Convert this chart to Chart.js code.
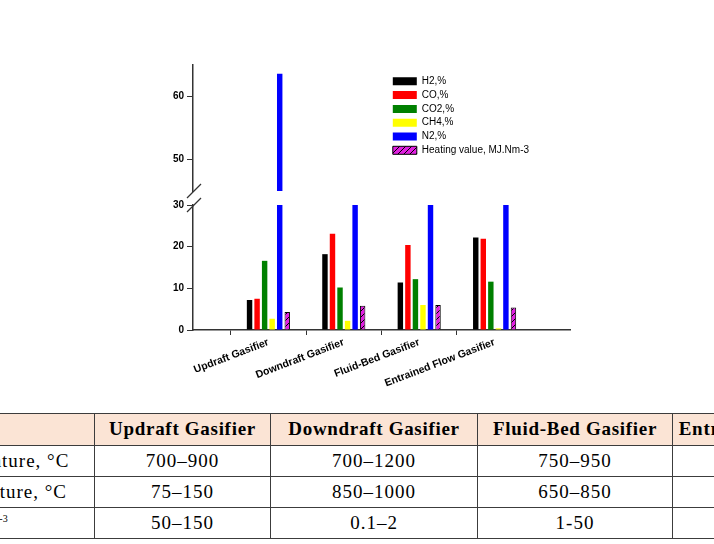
<!DOCTYPE html>
<html>
<head>
<meta charset="utf-8">
<script src="https://cdn.jsdelivr.net/npm/chart.js@4.4.0/dist/chart.umd.min.js"></script>
<style>
  html, body { margin: 0; padding: 0; background: #fff; width: 714px; height: 544px; overflow: hidden; position: relative; }
  #chartBox { position: absolute; left: 0; top: 0; width: 714px; height: 400px; }
  table { position: absolute; left: -173px; top: 412.5px; border-collapse: collapse; table-layout: fixed; width: 1071px;
          font-family: "Liberation Serif", serif; font-size: 19px; letter-spacing: 1px; color: #000; }
  th, td { border: 1.5px solid #3c3c3c; text-align: center; padding: 0; white-space: nowrap; overflow: hidden; }
  th { background: #fbe4d5; height: 31px; letter-spacing: 0.7px; }
  td { height: 30px; }
  td.tar { padding-right: 70px; }
  sup { font-size: 10px; letter-spacing: 0; }
</style>
</head>
<body>
<div id="chartBox"><canvas id="gasChart" width="714" height="400"></canvas></div>
<table>
  <colgroup><col style="width:267px"><col style="width:176px"><col style="width:207px"><col style="width:195px"><col style="width:226px"></colgroup>
  <tr><th></th><th>Updraft Gasifier</th><th>Downdraft Gasifier</th><th>Fluid-Bed Gasifier</th><th>Entrained Flow Gasifier</th></tr>
  <tr><td>Reaction temperature, °C</td><td>700–900</td><td>700–1200</td><td>750–950</td><td></td></tr>
  <tr><td>Gas exit temperature, °C</td><td>75–150</td><td>850–1000</td><td>650–850</td><td></td></tr>
  <tr><td class="tar">Tar content, g.Nm<sup>-3</sup></td><td>50–150</td><td>0.1–2</td><td>1-50</td><td></td></tr>
</table>
<script>
// blank slots at both ends so the groups sit between the axis ends
const categories = ['', 'Updraft Gasifier', 'Downdraft Gasifier', 'Fluid-Bed Gasifier', 'Entrained Flow Gasifier', ''];
const h2 = [null, 7.2, 18.2, 11.4, 22.2, null];
const co = [null, 7.5, 23.1, 20.4, 21.9, null];
const co2 = [null, 16.6, 10.2, 12.2, 11.6, null];
const ch4 = [null, 2.7, 2.2, 6.0, 0.4, null];
const n2 = [null, 63.6, 42, 44, 40, null];
const heating = [null, 4.3, 5.8, 6.0, 5.4, null];
const lowTicks = [0, 10, 20, 30];
const highTicks = [50, 60];

Chart.defaults.font.family = '"Liberation Sans", Arial, sans-serif';
Chart.defaults.color = '#000';

const ctx = document.getElementById('gasChart').getContext('2d');

function hatch() {
  const c = document.createElement('canvas');
  c.width = 6; c.height = 6;
  const g = c.getContext('2d');
  g.fillStyle = '#e01fe0';
  g.fillRect(0, 0, 6, 6);
  g.strokeStyle = '#000';
  g.lineWidth = 1;
  g.beginPath();
  g.moveTo(0, 6); g.lineTo(6, 0);
  g.moveTo(-1, 1); g.lineTo(1, -1);
  g.moveTo(5, 7); g.lineTo(7, 5);
  g.stroke();
  return ctx.createPattern(c, 'repeat');
}

function bars(label, data, color, axis) {
  return { label: label, data: data, backgroundColor: color, borderWidth: 0, yAxisID: axis, stack: label, clip: 0 };
}

const axisFont = { size: 10, weight: 'bold' };
const fixWidth = s => { s.width = 40; };

// little slashes where the y axis is broken
const axisBreak = {
  id: 'axisBreak',
  afterDraw(chart) {
    const c = chart.ctx;
    const hi = chart.scales.yHigh, lo = chart.scales.yLow;
    const x = lo.right;
    c.save();
    c.strokeStyle = '#333';
    c.lineWidth = 1.2;
    [hi.bottom, lo.top].forEach(y => {
      c.beginPath();
      c.moveTo(x - 6, y + 7);
      c.lineTo(x + 8, y - 7);
      c.stroke();
    });
    c.restore();
  }
};

// move the legend box into the upper right of the plot
const legendSpot = {
  id: 'legendSpot',
  afterLayout(chart) {
    chart.legend.left = 389;
    chart.legend.top = 72.5;
  }
};

const heatingSet = bars('Heating value, MJ.Nm-3', heating, hatch(), 'yLow');
heatingSet.borderWidth = 1;
heatingSet.borderColor = '#000';

const chart = new Chart(ctx, {
  type: 'bar',
  data: {
    labels: categories,
    datasets: [
      bars('H2,%', h2, '#000000', 'yLow'),
      bars('CO,%', co, '#ff0000', 'yLow'),
      bars('CO2,%', co2, '#008000', 'yLow'),
      bars('CH4,%', ch4, '#ffff00', 'yLow'),
      bars('N2,%', n2, '#0000ff', 'yLow'),
      heatingSet,
      Object.assign(bars('N2,%', n2, '#0000ff', 'yHigh'), { stack: 'N2,%' })
    ]
  },
  options: {
    responsive: false,
    animation: false,
    categoryPercentage: 0.6,
    barPercentage: 0.72,
    layout: { padding: { left: 153, top: 65, right: 144, bottom: 10 } },
    plugins: {
      legend: {
        position: 'chartArea',
        align: 'start',
        labels: {
          boxWidth: 24,
          boxHeight: 8,
          padding: 3.8,
          font: { size: 10 },
          filter: item => item.datasetIndex !== 6
        }
      },
      tooltip: { enabled: false }
    },
    scales: {
      x: {
        type: 'category',
        offset: false,
        stacked: true,
        ticks: { font: { size: 10.5, weight: 'bold' }, minRotation: 21, maxRotation: 21, autoSkip: false, padding: 1 },
        grid: {
          drawOnChartArea: false,
          tickLength: 5,
          color: c => (c.index === 0 || c.index === categories.length - 1) ? 'rgba(0,0,0,0)' : '#333'
        },
        border: { color: '#333', width: 1.5 },
        afterFit: s => { s.height = 60; }
      },
      yLow: {
        type: 'linear', position: 'left', stack: 'y', stackWeight: 125, weight: 0,
        min: 0, max: 30, stacked: false,
        afterBuildTicks: s => { s.ticks = lowTicks.map(v => ({ value: v })); },
        ticks: { font: axisFont, padding: 3 },
        grid: { drawOnChartArea: false, tickLength: 6, color: '#333' },
        border: { color: '#333', width: 1.5 },
        afterFit: fixWidth
      },
      yGap: {
        type: 'linear', position: 'left', stack: 'y', stackWeight: 14, weight: 1,
        min: 30, max: 45,
        ticks: { display: false },
        grid: { display: false },
        border: { display: false },
        afterFit: fixWidth
      },
      yHigh: {
        type: 'linear', position: 'left', stack: 'y', stackWeight: 126, weight: 2,
        min: 45, max: 65, stacked: false,
        afterBuildTicks: s => { s.ticks = highTicks.map(v => ({ value: v })); },
        ticks: { font: axisFont, padding: 3 },
        grid: { drawOnChartArea: false, tickLength: 6, color: '#333' },
        border: { color: '#333', width: 1.5 },
        afterFit: fixWidth
      }
    }
  },
  plugins: [axisBreak, legendSpot]
});
</script>
</body>
</html>
